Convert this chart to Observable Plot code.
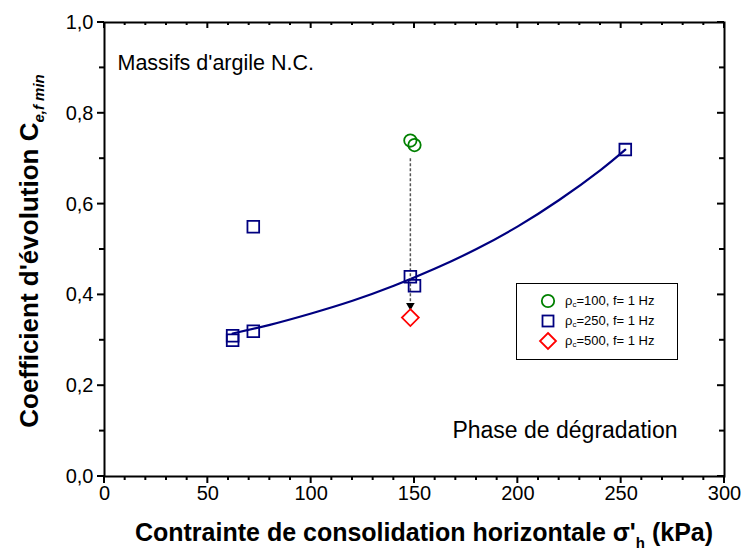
<!DOCTYPE html>
<html><head><meta charset="utf-8">
<script src="https://cdn.jsdelivr.net/npm/d3@7"></script>
<script src="https://cdn.jsdelivr.net/npm/@observablehq/plot@0.6"></script>
<style>
body{margin:0;background:#fff;font-family:"Liberation Sans",Arial,sans-serif;overflow:hidden;}
#wrap{position:relative;width:744px;height:555px;}
#legend{position:absolute;left:516px;top:283px;width:160px;height:75px;border:1px solid #000;background:#fff;}
.item{position:absolute;left:0;height:20px;width:160px;font-size:13px;}
.item svg{position:absolute;left:21px;top:0;}
.item span{position:absolute;left:48px;top:2px;white-space:nowrap;}
.item sub{font-size:8px;vertical-align:-2px;}
</style></head><body><div id="wrap"></div>
<script>
// Data
const circleX = [148, 150];
const circleY = [0.74, 0.73];
const squareX = [62, 62, 72, 72, 148, 150, 252];
const squareY = [0.31, 0.30, 0.32, 0.55, 0.44, 0.42, 0.72];
const diamondX = [148];
const diamondY = [0.35];
const fitX = [62, 80, 100, 120, 140, 160, 180, 200, 220, 240, 252];
const fitY = [0.315, 0.334, 0.359, 0.387, 0.420, 0.458, 0.501, 0.551, 0.609, 0.675, 0.720];
const arrowX = [148];
const arrowY1 = [0.70];
const arrowY2 = [0.37];
const xTicks = [0, 50, 100, 150, 200, 250, 300];
const xMinor = [10, 20, 30, 40, 60, 70, 80, 90, 110, 120, 130, 140, 160, 170, 180, 190, 210, 220, 230, 240, 260, 270, 280, 290];
const yTicks = [0, 0.2, 0.4, 0.6, 0.8, 1.0];
const yMinor = [0.1, 0.3, 0.5, 0.7, 0.9];
const legendRho = ["100", "250", "500"];
const legendColors = ["#008000", "#000080", "#ff0000"];
const legendSymbols = ["circle", "square", "diamond"];

const W = 744, H = 555, ML = 104, MR = 20, MT = 22, MB = 79;

const pts = (X, Y) => X.map((x, i) => ({x, y: Y[i]}));
const fmt = d => d.toFixed(1).replace(".", ",");

const plot = Plot.plot({
  width: W, height: H,
  marginLeft: ML, marginRight: MR, marginTop: MT, marginBottom: MB,
  x: {domain: [0, 300]},
  y: {domain: [0, 1]},
  style: {fontFamily: "'Liberation Sans', Arial, sans-serif", fontSize: "20px", color: "#000"},
  marks: [
    Plot.axisX(xTicks, {anchor: "bottom", tickSize: 0, tickPadding: 9, fontSize: 20, label: null, tickFormat: d => String(d)}),
    Plot.axisY(yTicks, {anchor: "left", tickSize: 0, tickPadding: 11, fontSize: 20, tickFormat: fmt, label: null}),
    Plot.line(pts(fitX, fitY), {x: "x", y: "y", stroke: "#000080", strokeWidth: 2.2, curve: "natural"}),
    Plot.ruleX(arrowX.map((x, i) => ({x, y1: arrowY1[i], y2: arrowY2[i]})), {x: "x", y1: "y1", y2: "y2", stroke: "#555", strokeWidth: 1.5, strokeDasharray: "3,2"}),
    Plot.dot(arrowX.map((x, i) => ({x, y: arrowY2[i]})), {x: "x", y: "y", symbol: "triangle", rotate: 180, r: 3.2, fill: "#000", stroke: "none", dy: -3}),
    Plot.dot(pts(circleX, circleY), {x: "x", y: "y", symbol: "circle", r: 6.2, stroke: "#008000", strokeWidth: 1.8, fill: "none"}),
    Plot.dot(pts(squareX, squareY), {x: "x", y: "y", symbol: "square", r: 6.6, stroke: "#000080", strokeWidth: 1.8, fill: "none"}),
    Plot.dot(pts(diamondX, diamondY), {x: "x", y: "y", symbol: "diamond2", r: 7.6, stroke: "#ff0000", strokeWidth: 1.8, fill: "none"}),
    Plot.text(["Massifs d'argile N.C."], {frameAnchor: "top-left", dx: 13, dy: 32, fontSize: 21.5, textAnchor: "start", fill: "#000"}),
    Plot.text(["Phase de dégradation"], {frameAnchor: "bottom-right", dx: -47, dy: -39, fontSize: 23, textAnchor: "end", fill: "#000"}),
    Plot.frame({stroke: "#000", strokeWidth: 2})
  ]
});

const svg = d3.select(plot);
const sx = plot.scale("x"), sy = plot.scale("y");
const x0 = ML, x1 = W - MR, y0 = H - MB, y1 = MT;
// Tick marks positioned through Plot's own scales
const tg = svg.append("g").attr("stroke", "#000").attr("stroke-width", 2).attr("fill", "none");
const addTicks = (vals, isX, len) => {
  vals.forEach(v => {
    if (isX) {
      const px = sx.apply(v);
      tg.append("line").attr("x1", px).attr("x2", px).attr("y1", y0).attr("y2", y0 + len);         // bottom, outward
      tg.append("line").attr("x1", px).attr("x2", px).attr("y1", y1).attr("y2", y1 + len - 1);     // top, inward
    } else {
      const py = sy.apply(v);
      tg.append("line").attr("x1", x0).attr("x2", x0 - len).attr("y1", py).attr("y2", py);         // left, outward
      tg.append("line").attr("x1", x1).attr("x2", x1 - len).attr("y1", py).attr("y2", py);         // right, inward
    }
  });
};
addTicks(xTicks, true, 7);
addTicks(xMinor, true, 4);
addTicks(yTicks, false, 7);
addTicks(yMinor, false, 5);

// X axis title
const xt = svg.append("text").attr("x", 424).attr("y", 541).attr("text-anchor", "middle")
  .attr("font-size", 25).attr("font-weight", "bold").attr("fill", "#000");
xt.append("tspan").text("Contrainte de consolidation horizontale σ'");
xt.append("tspan").attr("font-size", 15).attr("dy", 7).text("h");
xt.append("tspan").attr("dy", -7).text(" (kPa)");
// Y axis title
const yt = svg.append("text").attr("transform", "translate(38,251) rotate(-90)").attr("text-anchor", "middle")
  .attr("font-size", 26).attr("font-weight", "bold").attr("fill", "#000");
yt.append("tspan").text("Coefficient d'évolution C");
yt.append("tspan").attr("font-size", 15).attr("font-style", "italic").attr("dy", 6).text("e,f min");

const wrap = document.getElementById("wrap");
wrap.appendChild(plot);

// Legend
const leg = document.createElement("div");
leg.id = "legend";
const symPath = {
  circle: '<circle cx="10" cy="10" r="6.2" fill="none" stroke-width="1.8" stroke="COL"/>',
  square: '<rect x="4.5" y="4.5" width="11" height="11" fill="none" stroke-width="1.8" stroke="COL"/>',
  diamond: '<path d="M10 2 L18 10 L10 18 L2 10 Z" fill="none" stroke-width="1.8" stroke="COL"/>'
};
legendRho.forEach((r, i) => {
  const it = document.createElement("div");
  it.className = "item";
  it.style.top = (7 + i * 20) + "px";
  it.innerHTML = '<svg width="20" height="20">' + symPath[legendSymbols[i]].replace("COL", legendColors[i]) + '</svg>' +
    '<span>ρ<sub>c</sub>=' + r + ', f= 1 Hz</span>';
  leg.appendChild(it);
});
wrap.appendChild(leg);
</script>
</body></html>
